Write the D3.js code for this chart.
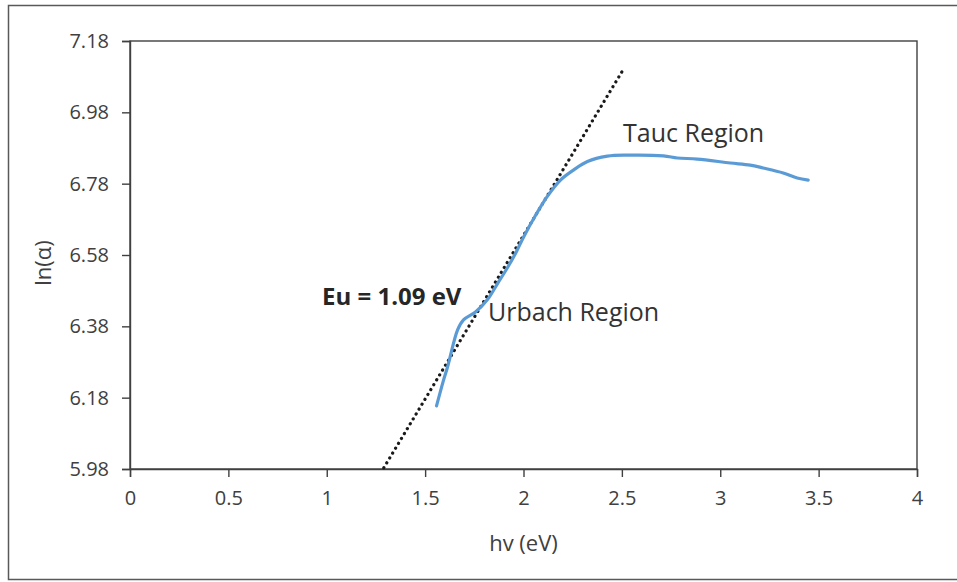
<!DOCTYPE html>
<html>
<head>
<meta charset="utf-8">
<script src="https://cdn.jsdelivr.net/npm/d3@7"></script>
<style>
  html, body { margin: 0; padding: 0; background: #fff; }
  svg { display: block; font-family: "Open Sans", sans-serif; }
</style>
</head>
<body>
<svg id="chart" width="957" height="582"></svg>
<script>
// Photon energy hv (eV) and ln(alpha) of the absorption edge
const hv = [1.558, 1.594, 1.614, 1.665, 1.695, 1.756, 1.817, 1.868, 1.919, 1.960,
            2.000, 2.060, 2.122, 2.188, 2.254, 2.325, 2.426, 2.528, 2.711, 2.782,
            2.883, 3.051, 3.152, 3.218, 3.320, 3.391, 3.447];
const lnAlpha = [6.157, 6.230, 6.266, 6.370, 6.398, 6.420, 6.455, 6.500, 6.545, 6.585,
                 6.630, 6.690, 6.745, 6.790, 6.818, 6.842, 6.857, 6.860, 6.858, 6.852,
                 6.849, 6.838, 6.832, 6.824, 6.810, 6.796, 6.790];

// Urbach energy and the linear fit of the Urbach tail (slope = 1/Eu)
const Eu = 1.09;
const fitIntercept = 4.80;
const fitRange = [1.29, 2.51];

// Axis ticks
const xTicks = [0, 0.5, 1, 1.5, 2, 2.5, 3, 3.5, 4];
const yTicks = [5.98, 6.18, 6.38, 6.58, 6.78, 6.98, 7.18];

const svg = d3.select("#chart");
const W = 957, H = 582;
const plot = { left: 130, right: 917, top: 41, bottom: 469 };

const x = d3.scaleLinear().domain([0, 4]).range([plot.left, plot.right]);
const y = d3.scaleLinear().domain([5.98, 7.18]).range([plot.bottom, plot.top]);

const axisColor = "#404040";
const textColor = "#404040";

// chart frame
svg.append("path")
  .attr("d", `M${W + 5},5.5 H8.5 V579.5 H${W + 5}`)
  .attr("fill", "none").attr("stroke", "#595959").attr("stroke-width", 1.5);

// plot area box
svg.append("rect")
  .attr("x", plot.left).attr("y", plot.top)
  .attr("width", plot.right - plot.left).attr("height", plot.bottom - plot.top)
  .attr("fill", "none").attr("stroke", axisColor).attr("stroke-width", 1.4);

// x axis
const gx = svg.append("g")
  .attr("transform", `translate(0,${plot.bottom})`)
  .call(d3.axisBottom(x).tickValues(xTicks).tickFormat(d3.format("")).tickSize(8).tickPadding(14));
gx.select(".domain").attr("stroke", axisColor).attr("stroke-width", 1.4);
gx.selectAll(".tick line").attr("stroke", axisColor).attr("stroke-width", 1.4);
gx.selectAll(".tick text").attr("fill", textColor).attr("font-size", 20)
  .attr("font-family", "Open Sans");

// y axis
const gy = svg.append("g")
  .attr("transform", `translate(${plot.left},0)`)
  .call(d3.axisLeft(y).tickValues(yTicks).tickFormat(d3.format(".2f")).tickSize(8).tickPadding(13));
gy.select(".domain").attr("stroke", axisColor).attr("stroke-width", 1.4);
gy.selectAll(".tick line").attr("stroke", axisColor).attr("stroke-width", 1.4);
gy.selectAll(".tick text").attr("fill", textColor).attr("font-size", 20)
  .attr("font-family", "Open Sans");

// axis titles
svg.append("text")
  .attr("x", (plot.left + plot.right) / 2).attr("y", 551)
  .attr("text-anchor", "middle").attr("fill", textColor).attr("font-size", 22)
  .text("hv (eV)");
svg.append("text")
  .attr("transform", `translate(51,${(plot.top + plot.bottom) / 2 + 8}) rotate(-90)`)
  .attr("text-anchor", "middle").attr("fill", textColor).attr("font-size", 22)
  .text("ln(α)");

// linear fit of the Urbach tail (dotted)
const fitLine = fitRange.map(v => ({ x: v, y: fitIntercept + v / Eu }));
svg.append("path")
  .datum(fitLine)
  .attr("d", d3.line().x(d => x(d.x)).y(d => y(d.y)))
  .attr("fill", "none").attr("stroke", "#1a1a1a").attr("stroke-width", 3.2)
  .attr("stroke-linecap", "round").attr("stroke-dasharray", "0.1 5.6");

// absorption curve
const pts = hv.map((v, i) => ({ x: v, y: lnAlpha[i] }));
svg.append("path")
  .datum(pts)
  .attr("d", d3.line().x(d => x(d.x)).y(d => y(d.y)).curve(d3.curveCatmullRom))
  .attr("fill", "none").attr("stroke", "#5B9BD5").attr("stroke-width", 3.2)
  .attr("stroke-linejoin", "round").attr("stroke-linecap", "round");

// annotations
svg.append("text").attr("x", 322).attr("y", 305)
  .attr("fill", "#262626").attr("font-size", 24).attr("font-weight", "bold")
  .text(`Eu = ${Eu.toFixed(2)} eV`);
svg.append("text").attr("x", 488).attr("y", 321)
  .attr("fill", "#333").attr("font-size", 25)
  .text("Urbach Region");
svg.append("text").attr("x", 623).attr("y", 142)
  .attr("fill", "#333").attr("font-size", 25)
  .text("Tauc Region");
</script>
</body>
</html>
